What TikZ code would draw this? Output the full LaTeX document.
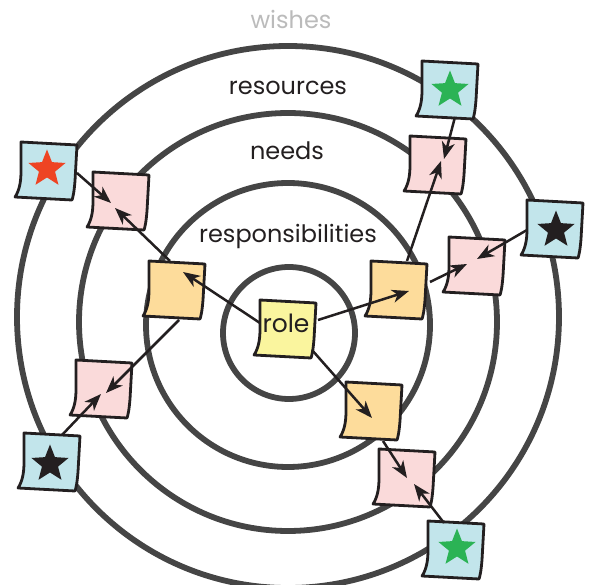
\documentclass[tikz,border=0pt]{standalone}
\usepackage{fontspec}
\setmainfont{Poppins}
\usetikzlibrary{shapes.geometric,arrows.meta}
\definecolor{ringc}{HTML}{454545}
\definecolor{ink}{HTML}{231F20}
\definecolor{wishc}{HTML}{BBBBBB}
\definecolor{rolec}{HTML}{FAF59E}
\definecolor{orangec}{HTML}{FDDC9B}
\definecolor{pinkc}{HTML}{FADADA}
\definecolor{bluec}{HTML}{C2E5EB}
\definecolor{redstar}{HTML}{EE4423}
\definecolor{greenstar}{HTML}{2BB355}
\tikzset{
  ring/.style={draw=ringc, line width=5.8pt},
  notebox/.style={draw=none, minimum size=57pt, inner sep=0pt},
  notepath/.style={draw=ink, line width=2.8pt, line join=round},
  arr/.style={draw=ink, line width=2.5pt, -{Stealth[length=17pt,width=13pt,inset=5pt]}},
  lab/.style={text=ink, font=\fontsize{24}{29}\selectfont, anchor=base, inner sep=0pt},
  starmark/.style={star, star points=5, star point ratio=2.3, minimum size=39pt, inner sep=0pt, draw=none}
}
\newcommand\notesheet[3]{%
  \filldraw[notepath, fill=#2, shift={(#1)}] (-26,-29) -- (30,-26) -- (28,10)
    .. controls (27,22) and (26,26) .. (25,29) -- (-32,26)
    .. controls (-28,20) and (-26,12) .. (-26,0) -- cycle;
  \node[notebox] (#3) at (#1) {};
}
\begin{document}
\begin{tikzpicture}[x=1pt, y=-1pt]
\useasboundingbox (0,0) rectangle (590,585);
\clip (0,0) rectangle (590,585);
% rings
\draw[ring] (288,317) circle[radius=271];
\draw[ring] (288,322) circle[radius=209];
\draw[ring] (288,325) circle[radius=142];
\draw[ring] (289,333) circle[radius=66];
% labels
\node[lab, text=wishc] (wishes) at (291,29) {wishes};
\node[lab] (resources) at (288,95) {resources};
\node[lab] (needs) at (287,160) {needs};
\node[lab] (resp) at (288,243) {responsibilities};
% notes
\notesheet{286,329}{rolec}{role}
\node[lab, font=\fontsize{25}{30}\selectfont] (roletext) at (286,333) {role};
\notesheet{175,290}{orangec}{oL}
\notesheet{397,290}{orangec}{oR}
\notesheet{372,411}{orangec}{oB}
\notesheet{119,201}{pinkc}{pTL}
\notesheet{102,389}{pinkc}{pLB}
\notesheet{436,165}{pinkc}{pTR}
\notesheet{475,266}{pinkc}{pR}
\notesheet{405,478}{pinkc}{pBR}
\notesheet{47,171}{bluec}{bRed}
\notesheet{448,90}{bluec}{bGT}
\notesheet{553,229}{bluec}{bBR}
\notesheet{50,462}{bluec}{bBL}
\notesheet{454,550}{bluec}{bGB}
% stars
\node[starmark, fill=redstar] (sRed) at (47,169) {};
\node[starmark, fill=greenstar] (sGT) at (450,90) {};
\node[starmark, fill=ink] (sBR) at (556,230) {};
\node[starmark, fill=ink] (sBL) at (50,464) {};
\node[starmark, fill=greenstar] (sGB) at (457,548) {};
% arrows
\draw[arr] ([shift={(-26,-6)}]role.center) -- ([shift={(8,-18)}]oL.center);
\draw[arr] ([shift={(32,-9)}]role.center) -- ([shift={(12,1)}]oR.center);
\draw[arr] ([shift={(26,21)}]role.center) -- ([shift={(0,7)}]oB.center);
\draw[arr] ([shift={(-5,-29)}]oL.center) -- ([shift={(-4,7)}]pTL.center);
\draw[arr] ([shift={(30,2)}]bRed.center) -- ([shift={(-8,2)}]pTL.center);
\draw[arr] ([shift={(4,30)}]oL.center) -- ([shift={(4,4)}]pLB.center);
\draw[arr] ([shift={(12,-27)}]bBL.center) -- ([shift={(-1,5)}]pLB.center);
\draw[arr] ([shift={(10,-29)}]oR.center) -- ([shift={(5,-4)}]pTR.center);
\draw[arr] ([shift={(7,27)}]bGT.center) -- ([shift={(8,-6)}]pTR.center);
\draw[arr] ([shift={(33,-8)}]oR.center) -- ([shift={(-8,-2)}]pR.center);
\draw[arr] ([shift={(-26,1)}]bBR.center) -- ([shift={(2,-7)}]pR.center);
\draw[arr] ([shift={(11,30)}]oB.center) -- ([shift={(2,0)}]pBR.center);
\draw[arr] ([shift={(-10,-27)}]bGB.center) -- ([shift={(9,6)}]pBR.center);
\end{tikzpicture}
\end{document}
